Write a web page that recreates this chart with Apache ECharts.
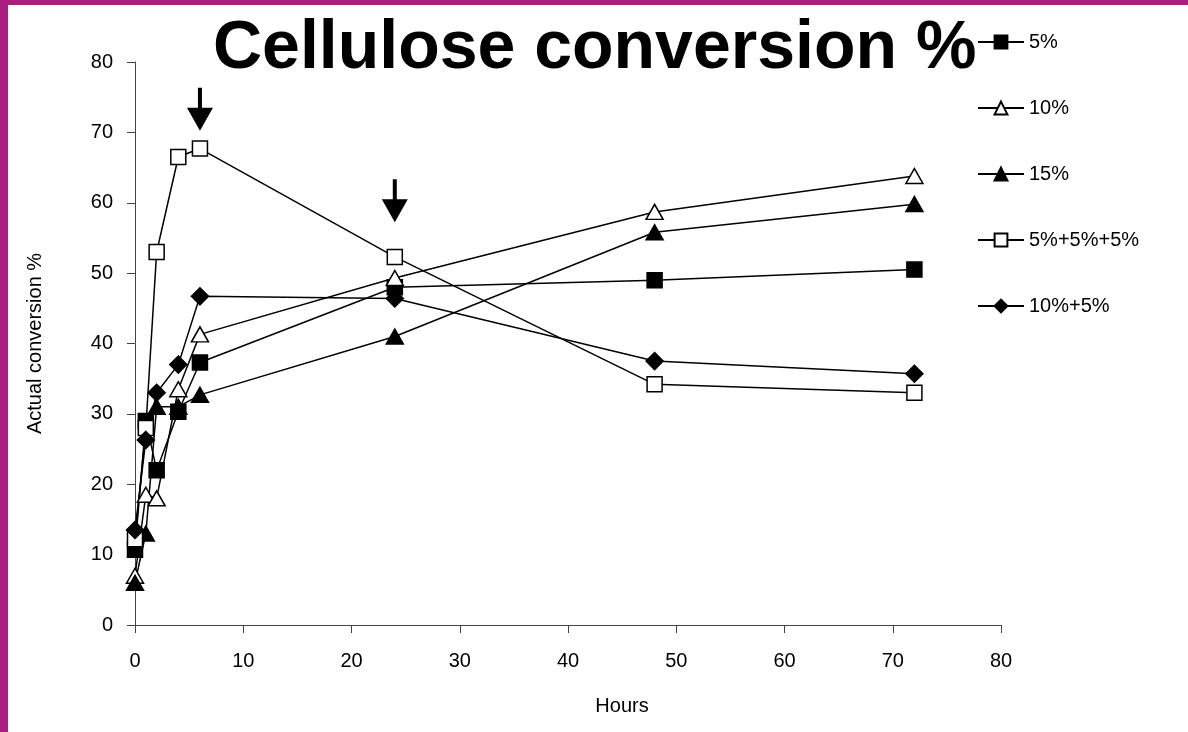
<!DOCTYPE html>
<html>
<head>
<meta charset="utf-8">
<script src="https://cdn.jsdelivr.net/npm/echarts@6/dist/echarts.min.js"></script>
<style>
html,body{margin:0;padding:0;background:#fff;}
#chart{width:1188px;height:732px;}
</style>
</head>
<body>
<div id="chart"></div>
<script>
// sampling times (hours)
const hours = [0, 1, 2, 4, 6, 24, 48, 72];
const s5 = [10.7, 29, 22, 30.3, 37.3, 48, 49, 50.5];
const s10 = [7, 18.5, 18, 33.5, 41.3, 49.3, 58.7, 63.8];
const s15 = [6, 13, 31, 31, 32.7, 41, 55.8, 59.8];
const s555 = [12.2, 28, 53, 66.5, 67.7, 52.3, 34.2, 33];
const s105 = [13.5, 26.3, 33, 37, 46.7, 46.4, 37.5, 35.7];
// feeding arrows [hour, value]
const arrows = [[6, 73.3], [24, 60.3]];

const pairs = vals => hours.map((h, i) => [h, vals[i]]);
const arrowPath = 'path://M11,0 L15,0 L15,20 L26,20 L13,43 L0,20 L11,20 Z';

function mk(name, vals, symbol, filled, size) {
	return {
		name: name,
		type: 'line',
		data: pairs(vals),
		symbol: symbol,
		symbolSize: size,
		showAllSymbol: true,
		lineStyle: {color: '#000', width: 1.5},
		itemStyle: {color: filled ? '#000' : '#fff', borderColor: '#000', borderWidth: 1.5},
		emphasis: {disabled: true},
		z: 3
	};
}

let chart = echarts.init(document.getElementById('chart'));
let option = {
	animation: false,
	backgroundColor: '#fff',
	title: {
		text: 'Cellulose conversion %',
		left: 208,
		top: 10,
		textStyle: {fontFamily: 'Liberation Sans', fontWeight: 'bold', fontSize: 68, color: '#000'}
	},
	graphic: [
		{type: 'rect', left: 0, top: 0, shape: {width: 8, height: 732}, style: {fill: '#a91f7f'}},
		{type: 'rect', left: 0, top: 0, shape: {width: 1188, height: 5}, style: {fill: '#a91f7f'}}
	],
	grid: {left: 135, right: 187, top: 62, bottom: 107},
	legend: {
		orient: 'vertical',
		left: 972,
		top: 27,
		itemWidth: 46,
		itemHeight: 16,
		itemGap: 46,
		data: ['5%', '10%', '15%', '5%+5%+5%', '10%+5%'],
		textStyle: {fontFamily: 'Liberation Sans', fontSize: 20, color: '#000'}
	},
	xAxis: {
		type: 'value',
		min: 0, max: 80, interval: 10,
		name: 'Hours',
		nameLocation: 'middle',
		nameGap: 71,
		nameTextStyle: {fontFamily: 'Liberation Sans', fontSize: 20, color: '#000', padding: [0, 0, 0, 108]},
		axisLine: {lineStyle: {color: '#444', width: 1}},
		axisTick: {length: 8, lineStyle: {color: '#444'}},
		axisLabel: {fontFamily: 'Liberation Sans', fontSize: 20, color: '#000', margin: 26},
		splitLine: {show: false}
	},
	yAxis: {
		type: 'value',
		min: 0, max: 80, interval: 10,
		name: 'Actual conversion %',
		nameLocation: 'middle',
		nameGap: 90,
		nameTextStyle: {fontFamily: 'Liberation Sans', fontSize: 20, color: '#000'},
		axisLine: {show: true, lineStyle: {color: '#444', width: 1}},
		axisTick: {show: true, length: 8, lineStyle: {color: '#444'}},
		axisLabel: {fontFamily: 'Liberation Sans', fontSize: 20, color: '#000', margin: 22},
		splitLine: {show: false}
	},
	series: [
		mk('5%', s5, 'rect', true, 15),
		mk('10%', s10, 'triangle', false, [17, 15]),
		mk('15%', s15, 'triangle', true, [17, 15]),
		mk('5%+5%+5%', s555, 'rect', false, 15),
		mk('10%+5%', s105, 'diamond', true, [17, 17]),
		{
			name: 'arrows',
			type: 'scatter',
			data: arrows,
			symbol: arrowPath,
			symbolSize: [26, 43],
			itemStyle: {color: '#000', opacity: 1},
			emphasis: {disabled: true},
			silent: true
		}
	]
};
chart.setOption(option, true);
</script>
</body>
</html>
